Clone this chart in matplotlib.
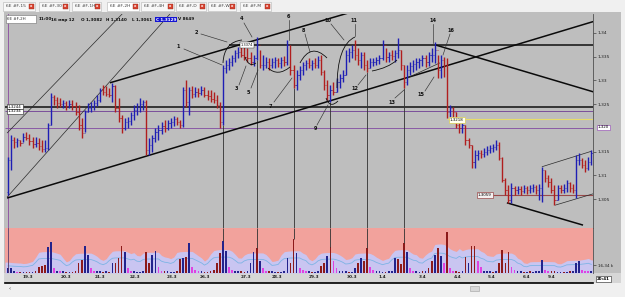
import numpy as np
import pandas as pd
import matplotlib
matplotlib.use("Agg")
import matplotlib.pyplot as plt
from matplotlib.patches import Rectangle, PathPatch
from matplotlib.path import Path
from matplotlib.lines import Line2D
from matplotlib.transforms import Affine2D

# ------------------------------------------------------------------ data
high = [1.3139, 1.3185, 1.3181, 1.3179, 1.3175, 1.3189, 1.3191, 1.3187, 1.3181, 1.3181,
        1.3179, 1.3175, 1.3175, 1.3210, 1.3274, 1.3270, 1.3265, 1.3263, 1.3259, 1.3257,
        1.3259, 1.3259, 1.3255, 1.3248, 1.3221, 1.3238, 1.3253, 1.3255, 1.3259, 1.3270,
        1.3284, 1.3291, 1.3289, 1.3284, 1.3295, 1.3291, 1.3263, 1.3227, 1.3221, 1.3223,
        1.3234, 1.3248, 1.3253, 1.3263, 1.3259, 1.3259, 1.3179, 1.3185, 1.3200, 1.3206,
        1.3213, 1.3217, 1.3217, 1.3221, 1.3225, 1.3223, 1.3217, 1.3286, 1.3301, 1.3286,
        1.3289, 1.3286, 1.3284, 1.3289, 1.3286, 1.3280, 1.3280, 1.3276, 1.3270, 1.3255,
        1.3333, 1.3343, 1.3348, 1.3354, 1.3365, 1.3371, 1.3375, 1.3371, 1.3369, 1.3360,
        1.3354, 1.3392, 1.3365, 1.3354, 1.3350, 1.3348, 1.3348, 1.3350, 1.3348, 1.3350,
        1.3352, 1.3386, 1.3375, 1.3333, 1.3322, 1.3331, 1.3339, 1.3343, 1.3348, 1.3343,
        1.3348, 1.3352, 1.3354, 1.3322, 1.3301, 1.3291, 1.3297, 1.3305, 1.3314, 1.3322,
        1.3365, 1.3369, 1.3375, 1.3386, 1.3369, 1.3360, 1.3360, 1.3343, 1.3348, 1.3348,
        1.3350, 1.3354, 1.3386, 1.3369, 1.3360, 1.3365, 1.3365, 1.3390, 1.3365, 1.3333,
        1.3333, 1.3339, 1.3343, 1.3348, 1.3348, 1.3354, 1.3354, 1.3360, 1.3369, 1.3381,
        1.3354, 1.3354, 1.3350, 1.3348, 1.3248, 1.3244, 1.3234, 1.3217, 1.3213, 1.3206,
        1.3179, 1.3164, 1.3154, 1.3154, 1.3154, 1.3157, 1.3162, 1.3164, 1.3166, 1.3175,
        1.3170, 1.3139, 1.3094, 1.3080, 1.3084, 1.3078, 1.3078, 1.3078, 1.3080, 1.3078,
        1.3080, 1.3082, 1.3080, 1.3082, 1.3117, 1.3111, 1.3101, 1.3094, 1.3080, 1.3080,
        1.3080, 1.3082, 1.3090, 1.3086, 1.3082, 1.3143, 1.3147, 1.3136, 1.3132, 1.3139,
        1.3154]
low = [1.3059, 1.3111, 1.3157, 1.3160, 1.3162, 1.3170, 1.3175, 1.3164, 1.3157, 1.3160,
       1.3154, 1.3149, 1.3149, 1.3154, 1.3206, 1.3248, 1.3242, 1.3244, 1.3242, 1.3238,
       1.3242, 1.3238, 1.3227, 1.3196, 1.3179, 1.3191, 1.3234, 1.3234, 1.3238, 1.3246,
       1.3255, 1.3270, 1.3267, 1.3265, 1.3255, 1.3234, 1.3213, 1.3189, 1.3196, 1.3200,
       1.3206, 1.3217, 1.3227, 1.3234, 1.3238, 1.3143, 1.3143, 1.3149, 1.3170, 1.3175,
       1.3187, 1.3191, 1.3196, 1.3200, 1.3204, 1.3206, 1.3200, 1.3202, 1.3244, 1.3227,
       1.3263, 1.3265, 1.3265, 1.3270, 1.3265, 1.3259, 1.3255, 1.3253, 1.3242, 1.3200,
       1.3206, 1.3316, 1.3322, 1.3331, 1.3339, 1.3348, 1.3350, 1.3343, 1.3339, 1.3333,
       1.3331, 1.3343, 1.3327, 1.3322, 1.3327, 1.3322, 1.3327, 1.3327, 1.3329, 1.3327,
       1.3331, 1.3333, 1.3312, 1.3284, 1.3280, 1.3301, 1.3312, 1.3322, 1.3327, 1.3322,
       1.3327, 1.3327, 1.3312, 1.3280, 1.3259, 1.3255, 1.3270, 1.3276, 1.3284, 1.3297,
       1.3312, 1.3339, 1.3348, 1.3343, 1.3333, 1.3327, 1.3322, 1.3318, 1.3327, 1.3331,
       1.3333, 1.3335, 1.3343, 1.3339, 1.3339, 1.3343, 1.3339, 1.3348, 1.3322, 1.3284,
       1.3291, 1.3312, 1.3318, 1.3322, 1.3327, 1.3331, 1.3329, 1.3331, 1.3339, 1.3337,
       1.3305, 1.3305, 1.3308, 1.3221, 1.3223, 1.3221, 1.3200, 1.3189, 1.3189, 1.3164,
       1.3157, 1.3115, 1.3115, 1.3132, 1.3136, 1.3139, 1.3143, 1.3147, 1.3149, 1.3154,
       1.3132, 1.3086, 1.3059, 1.3042, 1.3042, 1.3059, 1.3061, 1.3059, 1.3063, 1.3061,
       1.3063, 1.3065, 1.3061, 1.3048, 1.3044, 1.3086, 1.3075, 1.3063, 1.3037, 1.3048,
       1.3063, 1.3063, 1.3065, 1.3065, 1.3063, 1.3052, 1.3122, 1.3115, 1.3107, 1.3111,
       1.3122]
close = [1.3132, 1.3175, 1.3170, 1.3175, 1.3168, 1.3181, 1.3179, 1.3172, 1.3166, 1.3168,
         1.3162, 1.3156, 1.3157, 1.3206, 1.3265, 1.3259, 1.3253, 1.3251, 1.3253, 1.3246,
         1.3251, 1.3246, 1.3234, 1.3206, 1.3189, 1.3234, 1.3242, 1.3246, 1.3253, 1.3259,
         1.3280, 1.3276, 1.3272, 1.3270, 1.3289, 1.3242, 1.3221, 1.3200, 1.3213, 1.3215,
         1.3227, 1.3238, 1.3244, 1.3251, 1.3255, 1.3154, 1.3164, 1.3179, 1.3191, 1.3196,
         1.3204, 1.3200, 1.3210, 1.3213, 1.3219, 1.3213, 1.3206, 1.3280, 1.3255, 1.3280,
         1.3272, 1.3276, 1.3274, 1.3280, 1.3270, 1.3267, 1.3261, 1.3259, 1.3248, 1.3213,
         1.3327, 1.3333, 1.3339, 1.3348, 1.3358, 1.3360, 1.3354, 1.3350, 1.3348, 1.3339,
         1.3348, 1.3375, 1.3333, 1.3333, 1.3339, 1.3333, 1.3339, 1.3343, 1.3337, 1.3343,
         1.3339, 1.3375, 1.3322, 1.3291, 1.3312, 1.3322, 1.3333, 1.3337, 1.3333, 1.3337,
         1.3333, 1.3343, 1.3318, 1.3291, 1.3270, 1.3280, 1.3276, 1.3297, 1.3305, 1.3312,
         1.3354, 1.3360, 1.3365, 1.3354, 1.3343, 1.3354, 1.3333, 1.3327, 1.3339, 1.3339,
         1.3343, 1.3348, 1.3375, 1.3350, 1.3354, 1.3352, 1.3358, 1.3365, 1.3333, 1.3297,
         1.3322, 1.3331, 1.3335, 1.3339, 1.3343, 1.3348, 1.3339, 1.3354, 1.3354, 1.3365,
         1.3322, 1.3343, 1.3333, 1.3234, 1.3242, 1.3234, 1.3206, 1.3200, 1.3206, 1.3175,
         1.3164, 1.3128, 1.3143, 1.3147, 1.3145, 1.3149, 1.3154, 1.3157, 1.3160, 1.3164,
         1.3136, 1.3090, 1.3069, 1.3048, 1.3073, 1.3069, 1.3071, 1.3067, 1.3073, 1.3069,
         1.3073, 1.3075, 1.3069, 1.3073, 1.3111, 1.3094, 1.3086, 1.3069, 1.3048, 1.3073,
         1.3069, 1.3073, 1.3084, 1.3073, 1.3069, 1.3132, 1.3132, 1.3122, 1.3115, 1.3128,
         1.3147]
first_open = 1.3065

volume_k = [10, 10, 4, 3, 3, 3, 3, 3, 3, 4,
            13, 15, 16, 55, 66, 10, 5, 4, 4, 3,
            3, 3, 4, 21, 27, 56, 38, 10, 5, 4,
            4, 3, 4, 3, 21, 22, 32, 58, 44, 10,
            4, 4, 3, 3, 4, 44, 22, 38, 46, 13,
            5, 4, 4, 3, 3, 4, 30, 32, 33, 63,
            13, 7, 4, 4, 3, 3, 4, 7, 22, 43,
            67, 46, 13, 7, 4, 4, 4, 3, 4, 22,
            44, 52, 26, 10, 5, 4, 4, 3, 3, 3,
            4, 32, 22, 72, 43, 10, 7, 4, 4, 3,
            3, 4, 15, 22, 35, 55, 26, 10, 5, 4,
            4, 3, 3, 10, 22, 32, 26, 52, 13, 7,
            4, 4, 3, 3, 4, 5, 32, 29, 19, 63,
            44, 10, 5, 4, 3, 4, 4, 10, 26, 38,
            52, 35, 22, 86, 10, 5, 4, 3, 4, 33,
            22, 58, 58, 26, 13, 5, 4, 4, 3, 4,
            22, 49, 22, 44, 13, 7, 4, 4, 3, 3,
            4, 3, 4, 5, 27, 7, 4, 4, 4, 3,
            3, 3, 3, 4, 4, 22, 26, 7, 4, 4, 4]
volume_kind = ("bbbmrbrrbr" "rrrbbmbmbr" "brrrrbbmmb" "brbrbrrrbm" "mbbbbrrbbm"
               "mrbbbrrbrb" "mmmbrrrrrr" "bbmmbbrrbb" "brbmmrbbrb" "bbrrbmmmbr"
               "bbrrbrmmbb" "brbbrbrrmm" "bbbrbbbrrr" "bmmbbrbrrb" "rbmrmmrrbr"
               "brrmmbbbrb" "rrrrmmbbrb" "rbbbbmmrrb" "brbrbbbmmmb")

date_labels = ["19.3", "20.3", "21.3", "22.3", "23.3", "26.3", "27.3", "28.3", "29.3",
               "30.3", "1.4", "3.4", "4.4", "5.4", "6.4", "9.4"]
date_pos = [6.5, 19, 30, 41.5, 53.5, 64, 77.5, 87.5, 99.5, 112, 122, 135, 146.5, 157.5, 169, 177]
price_ticks = [1.305, 1.31, 1.315, 1.325, 1.33, 1.335, 1.34]
price_tick_labels = ["1,305", "1,31", "1,315", "1,325", "1,33", "1,335", "1,34"]
marked_bars = [70, 81, 93, 105, 117, 129]

# trend lines: (bar0, price0, bar1, price1, heavy)
trend_lines = [(-0.3, 1.3052, 190.6, 1.3424, True),
               (33.2, 1.3295, 115.0, 1.3450, True),
               (-0.3, 1.3189, 40.0, 1.3459, False),
               (-0.3, 1.3054, 55.5, 1.3460, False),
               (139.1, 1.3375, 190.6, 1.3276, True),
               (162.5, 1.3042, 187.3, 1.2995, True),
               (173.9, 1.3118, 190.2, 1.3151, False),
               (178.2, 1.3037, 190.6, 1.3061, False),
               (130.0, 1.3305, 140.7, 1.3337, False)]
# horizontal levels: (price, from_bar, colour, width)
levels = [(1.3244, -1, '#101010', 1.1),
          (1.3236, -1, '#7a4f9a', 0.7),
          (1.3200, -1, '#8a5aa6', 0.7),
          (1.3218, 143, '#e6dc6a', 0.8),
          (1.3375, 72, '#101010', 1.1),
          (1.3059, 153, '#9a4a4a', 0.8)]

# ------------------------------------------------------------------ figure
W, H = 625, 297
fig = plt.figure(figsize=(W / 100, H / 100), dpi=100)
fig.patch.set_facecolor('#f0f0f0')
pix = Affine2D().scale(1 / W, -1 / H).translate(0, 1) + fig.transFigure


def box(x0, y0, x1, y1):
    return [x0 / W, 1 - y1 / H, (x1 - x0) / W, (y1 - y0) / H]


def prect(x0, y0, x1, y1, z=-1, **kw):
    r = Rectangle((x0, y0), x1 - x0, y1 - y0, transform=pix, zorder=z, **kw)
    fig.add_artist(r)
    return r


def pline(xs, ys, z=6, **kw):
    fig.add_artist(Line2D(xs, ys, transform=pix, zorder=z, **kw))


def ptext(x, y, s, z=7, **kw):
    fig.text(x, y, s, transform=pix, zorder=z, **kw)


# backgrounds
prect(4, 12, 621, 273, fc='#bebebe', lw=0)
prect(4, 273, 621, 283, fc='#d6d6d6', lw=0)
prect(0, 0, 625, 12, fc='#f0f0f0', lw=0)

# tab bar
tab_names = ["6E #F,15", "6E #F,30", "6E #F,1H", "6E #F,2H", "6E #F,4H", "6E #F,D", "6E #F,W", "6E #F,M"]
tab_x = [6, 42, 75, 110, 144, 179, 211, 243]
icon_x = [29, 63, 95, 133, 168, 200, 230, 265]
for name, tx, ix in zip(tab_names, tab_x, icon_x):
    fc = '#ffffff' if name.endswith('2H') else '#f8f8f8'
    prect(tx - 3, 2, ix + 6, 10.5, z=2, fc=fc, ec='#b4b4b4', lw=0.4)
    ptext(tx, 6.4, name, size=3.2, color='#404040', va='center', ha='left')
    prect(ix, 4, ix + 4.5, 8.5, z=3, fc='#d8412f', ec='#903020', lw=0.3)
    ptext(ix + 2.25, 6.3, 'x', size=2.6, color='white', va='center', ha='center', weight='bold')

# ------------------------------------------------------------------ price panel
ax = fig.add_axes(box(5, 14, 593, 228))
ax.set_facecolor('#bebebe')
idx = np.arange(len(close))
hi = np.array(high)
lo = np.array(low)
cl = np.array(close)
op = np.r_[first_open, cl[:-1]]
up = cl >= op
BLUE, RED = '#1e1eb4', '#b01e1e'
for mask, col in ((up, BLUE), (~up, RED)):
    ax.vlines(idx[mask], lo[mask], hi[mask], color=col, lw=1.0, zorder=4)
    ax.hlines(cl[mask], idx[mask], idx[mask] + 0.4, color=col, lw=0.5, zorder=4)
    ax.hlines(op[mask], idx[mask] - 0.4, idx[mask], color=col, lw=0.5, zorder=4)

XMIN, XMAX = -0.98, 190.55
YMIN, YMAX = 1.29889, 1.3440
ax.set_xlim(XMIN, XMAX)
ax.set_ylim(YMIN, YMAX)

for price, start, col, lw in levels:
    ax.hlines(price, max(start, XMIN), XMAX, color=col, lw=lw, zorder=2)
for b0, p0, b1, p1, heavy in trend_lines:
    ax.plot([b0, b1], [p0, p1], color='#0a0a0a' if heavy else '#2a2a2a',
            lw=1.1 if heavy else 0.5, zorder=3, solid_capstyle='butt')
# purple cursor line and marked-bar verticals
ax.axvline(0.15, color='#8a4aa0', lw=0.6, zorder=2)
for b in marked_bars:
    ax.vlines(b, YMIN, lo[b], color='#303030', lw=0.6, zorder=2)

ax.set_xticks([])
ax.yaxis.tick_right()
ax.set_yticks(price_ticks)
ax.set_yticklabels(price_tick_labels)
ax.tick_params(axis='y', labelsize=3.2, length=2, width=0.4, pad=1.5, colors='#202020')
for s in ('top', 'left', 'bottom'):
    ax.spines[s].set_visible(False)
ax.spines['right'].set_color('#505050')
ax.spines['right'].set_linewidth(0.6)

# ------------------------------------------------------------------ volume panel
av = fig.add_axes(box(5, 228, 593, 273))
av.set_facecolor('#f2a29c')
vol = np.array(volume_k, dtype=float)
vs = pd.Series(vol)
envelope = 1.5 * vs.rolling(9, center=True, min_periods=1).mean() + 14
avg_line = 0.7 * envelope - 1
ex = np.r_[XMIN, idx, XMAX]
ev = np.r_[envelope.iloc[0], envelope.values, envelope.iloc[-1]]
av.fill_between(ex, 0, ev, color='#c9c5f1', lw=0, zorder=1)
av.plot(idx, avg_line, color='#7eb4e4', lw=0.6, zorder=2)
cmap = {'b': '#23238c', 'r': '#8c1a1a', 'm': '#e042e0'}
av.bar(idx, vol, width=0.55, color=[cmap[k] for k in volume_kind], zorder=3, lw=0)
VTOP = 95
for b in marked_bars:
    av.vlines(b, vol[b], VTOP, color='#303030', lw=0.6, zorder=4)
av.axvline(0.15, color='#5a3a6a', lw=0.6, zorder=4)
av.set_xlim(XMIN, XMAX)
av.set_ylim(0, VTOP)
av.yaxis.tick_right()
av.set_yticks([16.34])
av.set_yticklabels(["16,34 k"])
av.tick_params(axis='y', labelsize=3.0, length=2, width=0.4, pad=1.5, colors='#202020')
av.set_xticks(date_pos)
av.set_xticklabels(date_labels)
av.tick_params(axis='x', labelsize=3.1, length=0, pad=1.3, colors='#202020')
for t in av.get_xticklabels():
    t.set_fontweight('bold')
for s in ('top', 'left', 'bottom'):
    av.spines[s].set_visible(False)
av.spines['right'].set_color('#505050')
av.spines['right'].set_linewidth(0.6)

# bottom strip
pline([5, 593], [282.5, 282.5], color='black', lw=1.2)
ptext(597, 279, '20:41', size=2.9, va='center', ha='left', weight='bold',
      bbox=dict(boxstyle='square,pad=0.25', fc='white', ec='#202020', lw=0.4))
ptext(9, 289, '\u2039', size=4, va='center', color='#404040')
prect(470, 285.5, 479, 291, z=2, fc='#d8d8d8', ec='#a0a0a0', lw=0.4)

# ------------------------------------------------------------------ header texts
prect(6, 15, 36, 22.5, z=5, fc='white', ec='#707070', lw=0.4)
ptext(7, 18.8, '6E #F,2H', size=2.9, va='center', color='#303030')
for s, x in [("11:00", 38.5), ("16 мар 12", 51), ("O 1,3082", 81), ("H 1,3140", 106),
             ("L 1,3061", 132), ("V 8649", 178)]:
    ptext(x, 19.5, s, size=3.0, va='center', weight='bold', color='#101010')
ptext(156, 19.5, "C 1,3129", size=3.0, va='center', weight='bold', color='white',
      bbox=dict(boxstyle='square,pad=0.15', fc='#1414d2', ec='none'))

# price boxes
boxlab = dict(size=2.9, va='center', ha='left')
ptext(8, 106.5, '1,3244', bbox=dict(boxstyle='square,pad=0.2', fc='white', ec='#202020', lw=0.4), **boxlab)
ptext(8, 111.5, '1,3234', bbox=dict(boxstyle='square,pad=0.2', fc='white', ec='#202020', lw=0.4), **boxlab)
ptext(450, 120, '1,3218', bbox=dict(boxstyle='square,pad=0.2', fc='#fffff0', ec='#d8cc50', lw=0.5), **boxlab)
ptext(478, 195, '1,3059', bbox=dict(boxstyle='square,pad=0.2', fc='#f4f0f0', ec='#9a4a4a', lw=0.5), **boxlab)
ptext(598, 127.5, '1,320', bbox=dict(boxstyle='square,pad=0.2', fc='white', ec='#9a5ab6', lw=0.5), **boxlab)
ptext(241, 45, '1,3374', size=2.5, va='center', ha='left',
      bbox=dict(boxstyle='square,pad=0.15', fc='white', ec='#202020', lw=0.3))

# ------------------------------------------------------------------ wave annotations
numbers = [("1", 178, 47), ("2", 196, 33), ("3", 236, 89), ("4", 242, 19), ("5", 248, 92),
           ("6", 288, 16), ("7", 270, 106), ("8", 303, 30), ("9", 315, 129), ("10", 328, 21),
           ("11", 354, 20), ("12", 355, 88), ("13", 392, 102), ("14", 433, 20), ("15", 421, 95),
           ("16", 451, 30)]
for s, x, y in numbers:
    ptext(x, y, s, size=3.6, weight='bold', ha='center', va='center', color='#101010')
pointers = [((184, 49), (222, 65)), ((201, 34), (227, 42)), ((239, 85), (246, 66)),
            ((244, 23), (252, 37)), ((251, 88), (258, 70)), ((289, 20), (289, 40)),
            ((274, 102), (292, 78)), ((305, 34), (310, 52)), ((317, 125), (328, 105)),
            ((331, 24), (344, 40)), ((355, 24), (355, 36)), ((358, 85), (366, 75)),
            ((395, 98), (404, 90)), ((433, 24), (433, 43)), ((425, 91), (434, 77)),
            ((450, 34), (443, 55))]
for (x0, y0), (x1, y1) in pointers:
    pline([x0, x1], [y0, y1], color='#303030', lw=0.45)
arcs = [((223, 63), (224, 42), (242, 40)), ((245, 57), (249, 68), (256, 63)),
        ((268, 68), (278, 77), (290, 67)), ((300, 63), (311, 42), (327, 58)),
        ((326, 98), (330, 109), (338, 101)), ((337, 88), (337, 45), (355, 37)),
        ((372, 71), (388, 68), (397, 60))]
for p0, c, p1 in arcs:
    path = Path([p0, c, p1], [Path.MOVETO, Path.CURVE3, Path.CURVE3])
    fig.add_artist(PathPatch(path, transform=pix, fill=False, ec='#101010', lw=0.6, zorder=6))

fig.savefig('out.png', dpi=100, facecolor=fig.get_facecolor())
